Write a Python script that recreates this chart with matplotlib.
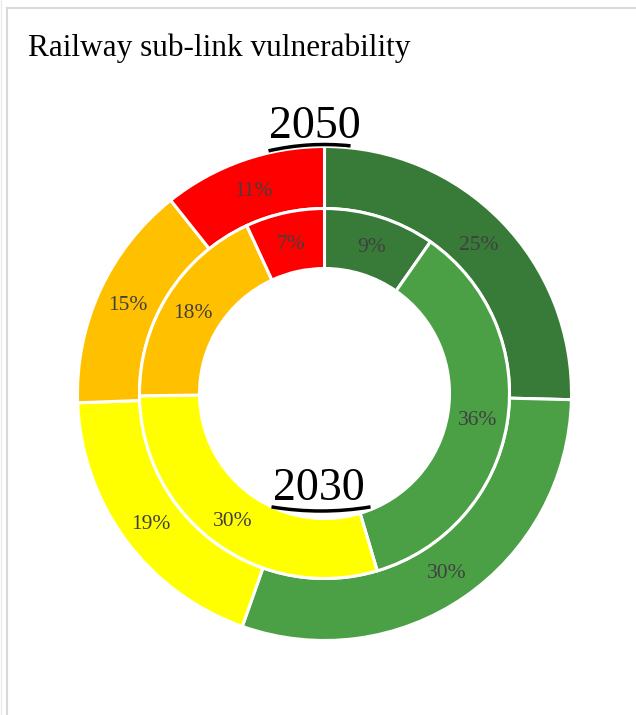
import matplotlib.pyplot as plt
from matplotlib.patches import Arc

plt.rcParams['font.family'] = ['Liberation Serif', 'DejaVu Serif']

# shares per class, clockwise from the top
classes = ['very low', 'low', 'medium', 'high', 'very high']
share_2050 = [25.4, 30.0, 19.0, 14.9, 10.7]   # outer ring
share_2030 = [9.7, 35.7, 29.4, 18.3, 6.9]     # inner ring
labels_2050 = ['25%', '30%', '19%', '15%', '11%']
labels_2030 = ['9%', '36%', '30%', '18%', '7%']
colors = ['#387A38', '#4BA046', '#FFFF00', '#FFC000', '#FF0000']

W, H = 636, 715
fig = plt.figure(figsize=(W / 100, H / 100), dpi=100)
ax = fig.add_axes([0, 0, 1, 1])

cx, cy = 324.5, H - 393.5

w_out, t_out, a_out = ax.pie(share_2050, radius=247, center=(cx, cy), startangle=90,
                             counterclock=False, colors=colors, autopct='%.0f%%',
                             pctdistance=0.875,
                             wedgeprops=dict(width=62, edgecolor='white', linewidth=2.2),
                             textprops=dict(color='#404040', fontsize=15.5))
w_in, t_in, a_in = ax.pie(share_2030, radius=185, center=(cx, cy), startangle=90,
                          counterclock=False, colors=colors, autopct='%.0f%%',
                          pctdistance=0.84,
                          wedgeprops=dict(width=60, edgecolor='white', linewidth=2.2),
                          textprops=dict(color='#404040', fontsize=15.5))
for txt, lab in zip(a_out, labels_2050):
    txt.set_text(lab)
    txt.set_va('center_baseline')
for txt, lab in zip(a_in, labels_2030):
    txt.set_text(lab)
    txt.set_va('center_baseline')

ax.set_xlim(0, W)
ax.set_ylim(0, H)
ax.set_aspect('equal')
ax.axis('off')

# ring names with curved underline
ax.text(315, H - 127, '2050', fontsize=33, ha='center', va='center', color='black')
ax.add_patch(Arc((cx, cy), 2 * 249, 2 * 249, theta1=84, theta2=103, color='black', lw=2.5))
ax.text(319, H - 489, '2030', fontsize=33, ha='center', va='center', color='black')
ax.add_patch(Arc((321, H - 511 + 300), 600, 600, theta1=260.5, theta2=279.5, color='black', lw=2.5))

ax.text(28, H - 48, 'Railway sub-link vulnerability', fontsize=22.5, ha='left', va='center')

# chart frame
ax.plot([7, 7], [0, H - 8], color='#D9D9D9', lw=1.5)
ax.plot([7, W], [H - 8, H - 8], color='#D9D9D9', lw=1.5)
ax.plot([1, 1], [0, H], color='#EBEBEB', lw=1)

fig.savefig('out.png', dpi=100)
